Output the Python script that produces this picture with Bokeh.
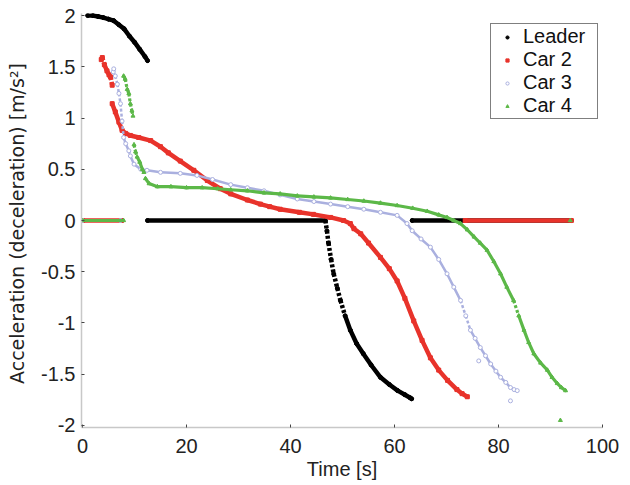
import math
from bokeh.plotting import figure
from bokeh.models import Range1d, FixedTicker, NumeralTickFormatter, Legend, LegendItem
from bokeh.embed import file_html
from bokeh.resources import INLINE

nan = float("nan")

# ---- data ----
leader_t = [1, 2, 3, 4, 5, 6, 7, 8, 9, 10, 11, 12, 12.5, nan,
            12.5, 46.7, 47.0, 47.3, 47.8, 48.3, 49.0, 49.6, 50.5, 51.5, 52.7, 54.0, 55.5, 57.3, 59.0,
            60.6, 62.0, 63.0, 63.3, nan,
            63.4, 94.0]
leader_a = [2.0, 2.0, 1.99, 1.98, 1.965, 1.95, 1.91, 1.87, 1.80, 1.74, 1.67, 1.60, 1.56, nan,
            0, 0, -0.10, -0.22, -0.38, -0.52, -0.66, -0.78, -0.93, -1.07, -1.20, -1.30, -1.41, -1.53, -1.60,
            -1.66, -1.70, -1.73, -1.74, nan,
            0, 0]

car2_t = [0, 7.5, nan,
          3.6, 3.8, 4.2, 4.7, 5.1, 5.4, 5.7, nan,
          5.7, 6.3, 7.0, 7.6, 8.3, 9.2, 10.8, 13.1, 15.0, 16.5, 18.8, 21.4, 24.0, 26.5, 28.5, 31.7,
          34.2, 36.0, 38.0, 41.7, 44.4, 47.7, 50.2, 51.5, 52.2, 53.5, 55.0, 57.3, 59.0, 60.5, 62.0,
          63.7, 65.3, 66.9, 68.5, 70.2, 72.0, 73.0, 74.0, nan,
          73.6, 94.0]
car2_a = [0, 0, nan,
          1.57, 1.59, 1.52, 1.46, 1.42, 1.40, 1.32, nan,
          1.14, 1.06, 0.96, 0.88, 0.85, 0.83, 0.81, 0.78, 0.72, 0.66, 0.58, 0.49, 0.39, 0.31, 0.26, 0.20,
          0.16, 0.135, 0.11, 0.08, 0.06, 0.03, 0.0, -0.03, -0.08, -0.13, -0.22, -0.36, -0.47, -0.59, -0.76,
          -0.98, -1.17, -1.34, -1.46, -1.56, -1.65, -1.69, -1.72, nan,
          0, 0]

car3_t = [0, 7.3, nan,
          5.9, 6.0, 6.3, 6.7, 7.0, 7.3, 7.6, 7.9, 8.3, 8.9, 9.2, 9.9, 11.2, 12.4, 15.0, 18.8, 22.0,
          25.0, 28.5, 31.7, 34.9, 38.0, 41.3, 44.5, 47.7, 51.0, 54.1, 57.3, 60.5, 62.4, 63.4, 65.1,
          66.9, 68.5, 70.1, 71.4, 72.7, 73.7, 74.6, 75.5, 76.5, 77.5, 78.5, 79.5, 80.4, 81.4, 82.3,
          83.0, 83.6, nan,
          76.2, nan,
          82.3]
car3_a = [0, 0, nan,
          1.45, 1.48, 1.41, 1.33, 1.24, 1.14, 0.97, 0.81, 0.75, 0.68, 0.63, 0.55, 0.50, 0.49, 0.47, 0.46, 0.44,
          0.40, 0.35, 0.32, 0.29, 0.25, 0.21, 0.185, 0.16, 0.135, 0.11, 0.08, 0.05, -0.03, -0.10, -0.18,
          -0.26, -0.38, -0.52, -0.65, -0.78, -0.93, -1.07, -1.15, -1.24, -1.32, -1.40, -1.47, -1.53, -1.58, -1.63,
          -1.65, -1.66, nan,
          -1.37, nan,
          -1.76]

car4_t = [0, 7.9, nan,
          7.9, 8.2, 8.6, 8.9, 9.2, 9.5, 9.7, nan,
          9.9, 10.2, 10.5, 11.0, 11.5, 11.8, nan,
          12.1, 12.8, 14.4, 17.0, 20.0, 23.0, 26.0, 28.5, 31.7, 34.9, 38.0, 41.3, 44.5, 47.7, 51.0,
          54.1, 57.3, 60.5, 63.5, 66.3, 68.5, 70.1, 71.4, 72.7, 74.0, 75.3, 76.5, 77.8, 79.1, 80.4,
          81.6, 82.9, 83.9, 84.9, 85.8, 86.8, 88.1, 89.4, 90.3, 91.3, 92.1, 92.9, nan,
          93.8, nan,
          91.9]
car4_a = [0, 0, nan,
          1.41, 1.38, 1.28, 1.24, 1.14, 1.07, 1.02, nan,
          0.74, 0.67, 0.62, 0.57, 0.50, 0.47, nan,
          0.41, 0.36, 0.33, 0.33, 0.32, 0.32, 0.31, 0.30, 0.29, 0.27, 0.26, 0.24, 0.23, 0.22, 0.205,
          0.19, 0.17, 0.146, 0.12, 0.09, 0.055, 0.03, 0.0, -0.03, -0.09, -0.16, -0.22, -0.29, -0.40, -0.52,
          -0.65, -0.78, -0.93, -1.07, -1.19, -1.30, -1.39, -1.46, -1.53, -1.59, -1.63, -1.66, nan,
          0, nan,
          -1.95]

series_names = ["Leader", "Car 2", "Car 3", "Car 4"]
x_ticks = [0, 20, 40, 60, 80, 100]
y_ticks = [-2, -1.5, -1, -0.5, 0, 0.5, 1, 1.5, 2]
x_title = "Time [s]"
y_title = "Acceleration  (deceleration) [m/s\u00b2]"

FONT = "Liberation Sans"
FS = "20px"

p = figure(width=626, height=482, output_backend="svg", toolbar_location=None,
           x_range=Range1d(-0.2, 100), y_range=Range1d(-2.02, 2.02),
           min_border_left=81, min_border_top=13, min_border_right=24, min_border_bottom=55)
p.outline_line_color = None
p.grid.visible = False
p.background_fill_color = "white"

for ax in (p.xaxis[0], p.yaxis[0]):
    ax.axis_line_color = "#c8c8c8"
    ax.axis_line_width = 1.5
    ax.major_tick_in = 3
    ax.major_tick_out = 0
    ax.major_tick_line_color = "#444444"
    ax.minor_tick_line_color = None
    ax.major_label_text_font = FONT
    ax.major_label_text_font_size = FS
    ax.major_label_text_color = "#222222"
    ax.axis_label_text_font = FONT
    ax.axis_label_text_font_size = FS
    ax.axis_label_text_font_style = "normal"
    ax.axis_label_text_color = "#222222"

p.xaxis.ticker = FixedTicker(ticks=x_ticks)
p.yaxis.ticker = FixedTicker(ticks=y_ticks)
p.yaxis.formatter = NumeralTickFormatter(format="0.[0]")
p.xaxis.formatter = NumeralTickFormatter(format="0")
p.xaxis.axis_label = x_title
p.yaxis.axis_label = y_title
p.yaxis.axis_label_text_font = "DejaVu Sans"
p.yaxis.axis_label_text_font_size = "19px"
p.xaxis.major_label_standoff = 11
p.xaxis.axis_label_standoff = 2
p.yaxis.major_label_standoff = 6
p.yaxis.axis_label_standoff = 10

specs = [
    (leader_t, leader_a, "#000000", 4.5, "circle", "#000000"),
    (car2_t, car2_a, "#e8332b", 4.5, "square", "#e8332b"),
    (car3_t, car3_a, "#aab0df", 2.5, "circle", "white"),
    (car4_t, car4_a, "#5cb848", 3.2, "triangle", "#5cb848"),
]

STEEP = 0.15  # |da/dt| above which the sampled trail looks dotted

items = []
for (tt, aa, col, lw, mk, fc), name in zip(specs, series_names):
    solid = ([], [], [], [])
    dotted = ([], [], [], [])
    for i in range(len(tt) - 1):
        t0, a0, t1, a1 = tt[i], aa[i], tt[i + 1], aa[i + 1]
        if any(math.isnan(v) for v in (t0, a0, t1, a1)):
            continue
        slope = abs((a1 - a0) / (t1 - t0)) if t1 != t0 else 99
        tgt = dotted if slope > STEEP else solid
        tgt[0].append(t0); tgt[1].append(a0); tgt[2].append(t1); tgt[3].append(a1)
    p.segment(x0=solid[0], y0=solid[1], x1=solid[2], y1=solid[3],
              line_color=col, line_width=lw, line_cap="round")
    p.segment(x0=dotted[0], y0=dotted[1], x1=dotted[2], y1=dotted[3],
              line_color=col, line_width=lw, line_dash="3 2")
    r = p.scatter(tt, aa, marker=mk, size=4, line_color=col, fill_color=fc, line_width=1)
    items.append(LegendItem(label=name, renderers=[r]))

legend = Legend(items=items, location=(409, 308))
legend.label_text_font = FONT
legend.label_text_font_size = FS
legend.label_text_color = "#111111"
legend.border_line_color = "black"
legend.border_line_width = 1
legend.background_fill_color = "white"
legend.background_fill_alpha = 1
legend.padding = 1
legend.spacing = 0
legend.glyph_width = 30
legend.glyph_height = 8
legend.label_height = 22
legend.label_width = 73
legend.label_standoff = 1
legend.margin = 0
p.add_layout(legend)

open("out.html", "w").write(file_html(p, INLINE))
